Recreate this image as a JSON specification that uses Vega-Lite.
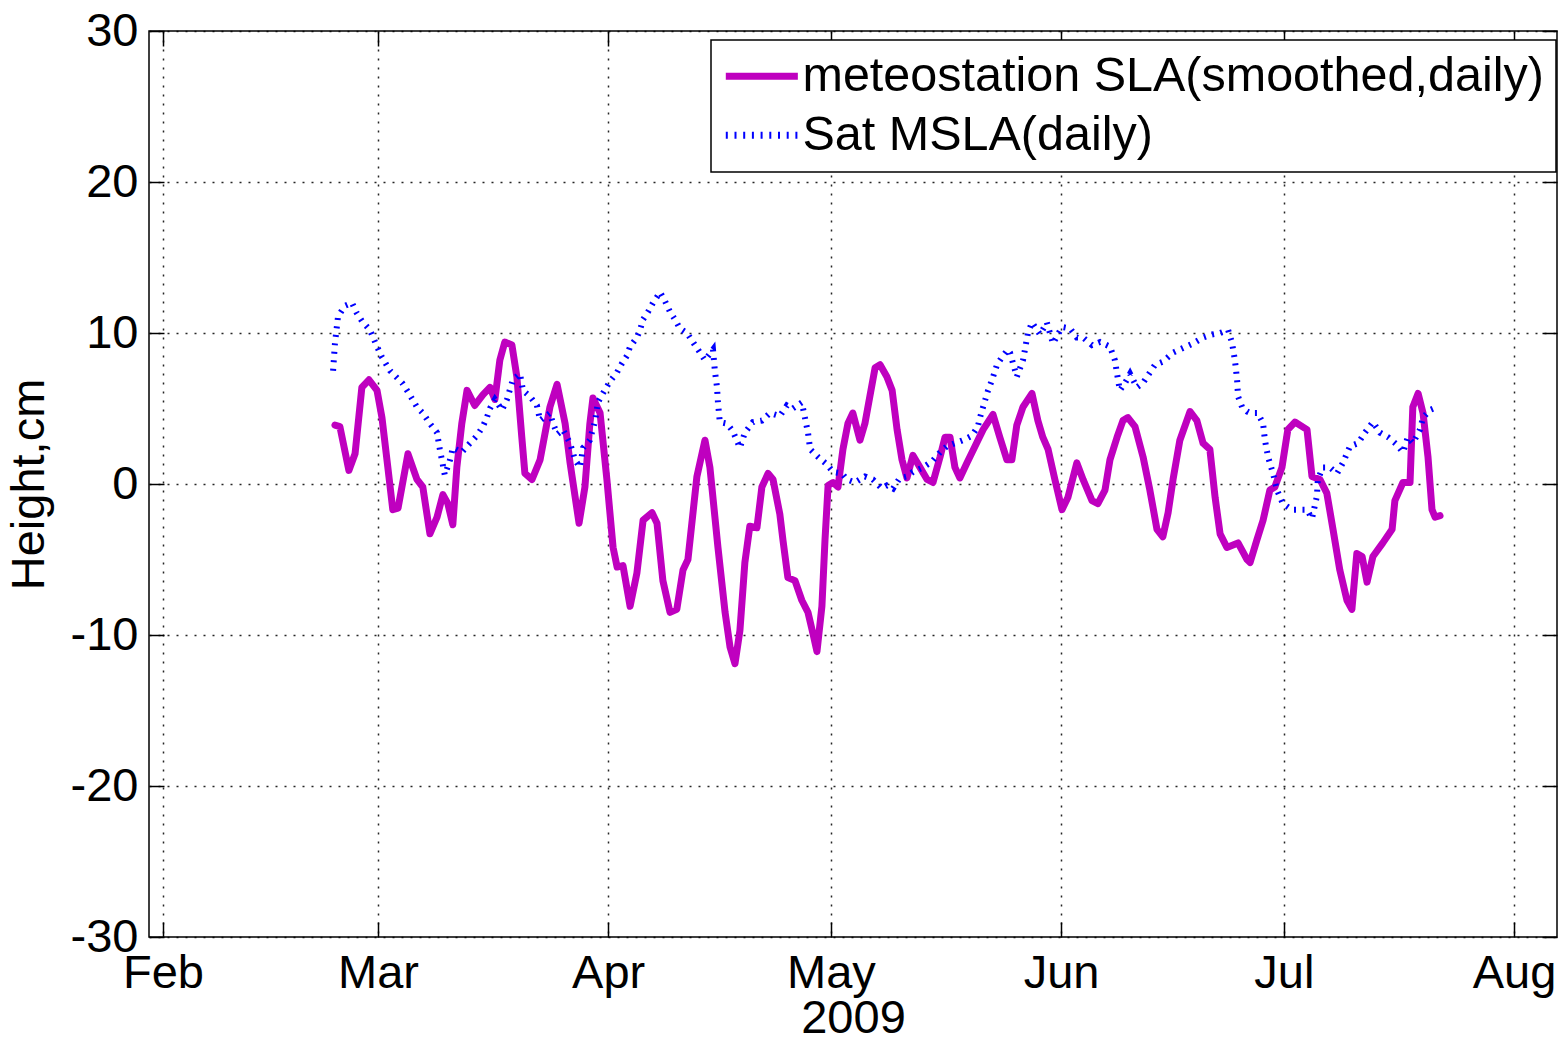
{
  "$schema": "https://vega.github.io/schema/vega-lite/v6.json",
  "width": 1408,
  "height": 906,
  "autosize": {"type": "none"},
  "padding": {"left": 149, "top": 31, "right": 1, "bottom": 103},
  "background": "white",
  "config": {
    "font": "Liberation Sans",
    "view": {"stroke": "black", "strokeWidth": 1.5},
    "axis": {
      "labelFont": "Liberation Sans", "titleFont": "Liberation Sans",
      "labelFontSize": 47, "titleFontSize": 47, "titleFontWeight": "normal",
      "labelColor": "black", "titleColor": "black",
      "tickColor": "black", "tickWidth": 1.5, "tickSize": -15,
      "domain": false,
      "gridColor": "black", "gridDash": [2, 7], "gridWidth": 1.5, "gridOpacity": 0.85,
      "labelFlush": false, "labelOverlap": false, "labelBound": false
    }
  },
  "datasets": {
    "meteo": [
      {"date": "2009-02-23T05:00", "value": 3.9, "series": "meteostation SLA(smoothed,daily)"},
      {"date": "2009-02-23T21:00", "value": 3.8, "series": "meteostation SLA(smoothed,daily)"},
      {"date": "2009-02-25T02:00", "value": 0.9, "series": "meteostation SLA(smoothed,daily)"},
      {"date": "2009-02-25T22:00", "value": 2.0, "series": "meteostation SLA(smoothed,daily)"},
      {"date": "2009-02-26T20:00", "value": 6.4, "series": "meteostation SLA(smoothed,daily)"},
      {"date": "2009-02-27T19:00", "value": 6.9, "series": "meteostation SLA(smoothed,daily)"},
      {"date": "2009-02-28T21:00", "value": 6.2, "series": "meteostation SLA(smoothed,daily)"},
      {"date": "2009-03-01T13:00", "value": 4.4, "series": "meteostation SLA(smoothed,daily)"},
      {"date": "2009-03-02T08:00", "value": 1.1, "series": "meteostation SLA(smoothed,daily)"},
      {"date": "2009-03-03T00:00", "value": -1.7, "series": "meteostation SLA(smoothed,daily)"},
      {"date": "2009-03-03T17:00", "value": -1.6, "series": "meteostation SLA(smoothed,daily)"},
      {"date": "2009-03-05T01:00", "value": 2.0, "series": "meteostation SLA(smoothed,daily)"},
      {"date": "2009-03-06T06:00", "value": 0.3, "series": "meteostation SLA(smoothed,daily)"},
      {"date": "2009-03-07T01:00", "value": -0.2, "series": "meteostation SLA(smoothed,daily)"},
      {"date": "2009-03-08T00:00", "value": -3.3, "series": "meteostation SLA(smoothed,daily)"},
      {"date": "2009-03-08T23:00", "value": -2.2, "series": "meteostation SLA(smoothed,daily)"},
      {"date": "2009-03-09T18:00", "value": -0.7, "series": "meteostation SLA(smoothed,daily)"},
      {"date": "2009-03-10T10:00", "value": -1.3, "series": "meteostation SLA(smoothed,daily)"},
      {"date": "2009-03-11T02:00", "value": -2.7, "series": "meteostation SLA(smoothed,daily)"},
      {"date": "2009-03-11T15:00", "value": 1.1, "series": "meteostation SLA(smoothed,daily)"},
      {"date": "2009-03-12T07:00", "value": 4.0, "series": "meteostation SLA(smoothed,daily)"},
      {"date": "2009-03-13T00:00", "value": 6.2, "series": "meteostation SLA(smoothed,daily)"},
      {"date": "2009-03-14T01:00", "value": 5.2, "series": "meteostation SLA(smoothed,daily)"},
      {"date": "2009-03-15T03:00", "value": 5.9, "series": "meteostation SLA(smoothed,daily)"},
      {"date": "2009-03-16T02:00", "value": 6.4, "series": "meteostation SLA(smoothed,daily)"},
      {"date": "2009-03-16T18:00", "value": 5.6, "series": "meteostation SLA(smoothed,daily)"},
      {"date": "2009-03-17T10:00", "value": 8.2, "series": "meteostation SLA(smoothed,daily)"},
      {"date": "2009-03-18T02:00", "value": 9.4, "series": "meteostation SLA(smoothed,daily)"},
      {"date": "2009-03-19T01:00", "value": 9.2, "series": "meteostation SLA(smoothed,daily)"},
      {"date": "2009-03-19T17:00", "value": 7.1, "series": "meteostation SLA(smoothed,daily)"},
      {"date": "2009-03-20T09:00", "value": 3.1, "series": "meteostation SLA(smoothed,daily)"},
      {"date": "2009-03-20T19:00", "value": 0.7, "series": "meteostation SLA(smoothed,daily)"},
      {"date": "2009-03-21T18:00", "value": 0.3, "series": "meteostation SLA(smoothed,daily)"},
      {"date": "2009-03-22T20:00", "value": 1.6, "series": "meteostation SLA(smoothed,daily)"},
      {"date": "2009-03-24T04:00", "value": 5.1, "series": "meteostation SLA(smoothed,daily)"},
      {"date": "2009-03-25T03:00", "value": 6.6, "series": "meteostation SLA(smoothed,daily)"},
      {"date": "2009-03-26T05:00", "value": 4.0, "series": "meteostation SLA(smoothed,daily)"},
      {"date": "2009-03-26T21:00", "value": 1.4, "series": "meteostation SLA(smoothed,daily)"},
      {"date": "2009-03-28T02:00", "value": -2.6, "series": "meteostation SLA(smoothed,daily)"},
      {"date": "2009-03-28T21:00", "value": -0.2, "series": "meteostation SLA(smoothed,daily)"},
      {"date": "2009-03-29T13:00", "value": 4.0, "series": "meteostation SLA(smoothed,daily)"},
      {"date": "2009-03-29T23:00", "value": 5.7, "series": "meteostation SLA(smoothed,daily)"},
      {"date": "2009-03-30T22:00", "value": 4.7, "series": "meteostation SLA(smoothed,daily)"},
      {"date": "2009-03-31T20:00", "value": 0.3, "series": "meteostation SLA(smoothed,daily)"},
      {"date": "2009-04-01T16:00", "value": -4.2, "series": "meteostation SLA(smoothed,daily)"},
      {"date": "2009-04-02T05:00", "value": -5.5, "series": "meteostation SLA(smoothed,daily)"},
      {"date": "2009-04-03T00:00", "value": -5.4, "series": "meteostation SLA(smoothed,daily)"},
      {"date": "2009-04-03T23:00", "value": -8.1, "series": "meteostation SLA(smoothed,daily)"},
      {"date": "2009-04-04T21:00", "value": -5.9, "series": "meteostation SLA(smoothed,daily)"},
      {"date": "2009-04-05T17:00", "value": -2.4, "series": "meteostation SLA(smoothed,daily)"},
      {"date": "2009-04-06T22:00", "value": -1.9, "series": "meteostation SLA(smoothed,daily)"},
      {"date": "2009-04-07T14:00", "value": -2.6, "series": "meteostation SLA(smoothed,daily)"},
      {"date": "2009-04-08T09:00", "value": -6.4, "series": "meteostation SLA(smoothed,daily)"},
      {"date": "2009-04-09T08:00", "value": -8.5, "series": "meteostation SLA(smoothed,daily)"},
      {"date": "2009-04-10T06:00", "value": -8.3, "series": "meteostation SLA(smoothed,daily)"},
      {"date": "2009-04-11T02:00", "value": -5.7, "series": "meteostation SLA(smoothed,daily)"},
      {"date": "2009-04-11T18:00", "value": -5.0, "series": "meteostation SLA(smoothed,daily)"},
      {"date": "2009-04-12T23:00", "value": 0.5, "series": "meteostation SLA(smoothed,daily)"},
      {"date": "2009-04-14T01:00", "value": 2.9, "series": "meteostation SLA(smoothed,daily)"},
      {"date": "2009-04-14T17:00", "value": 1.1, "series": "meteostation SLA(smoothed,daily)"},
      {"date": "2009-04-15T19:00", "value": -4.2, "series": "meteostation SLA(smoothed,daily)"},
      {"date": "2009-04-16T18:00", "value": -8.5, "series": "meteostation SLA(smoothed,daily)"},
      {"date": "2009-04-17T10:00", "value": -10.8, "series": "meteostation SLA(smoothed,daily)"},
      {"date": "2009-04-18T02:00", "value": -11.9, "series": "meteostation SLA(smoothed,daily)"},
      {"date": "2009-04-18T18:00", "value": -9.7, "series": "meteostation SLA(smoothed,daily)"},
      {"date": "2009-04-19T10:00", "value": -5.2, "series": "meteostation SLA(smoothed,daily)"},
      {"date": "2009-04-20T02:00", "value": -2.8, "series": "meteostation SLA(smoothed,daily)"},
      {"date": "2009-04-21T01:00", "value": -2.9, "series": "meteostation SLA(smoothed,daily)"},
      {"date": "2009-04-21T17:00", "value": -0.2, "series": "meteostation SLA(smoothed,daily)"},
      {"date": "2009-04-22T13:00", "value": 0.7, "series": "meteostation SLA(smoothed,daily)"},
      {"date": "2009-04-23T05:00", "value": 0.3, "series": "meteostation SLA(smoothed,daily)"},
      {"date": "2009-04-24T03:00", "value": -2.0, "series": "meteostation SLA(smoothed,daily)"},
      {"date": "2009-04-24T13:00", "value": -3.7, "series": "meteostation SLA(smoothed,daily)"},
      {"date": "2009-04-25T05:00", "value": -6.2, "series": "meteostation SLA(smoothed,daily)"},
      {"date": "2009-04-26T04:00", "value": -6.4, "series": "meteostation SLA(smoothed,daily)"},
      {"date": "2009-04-27T02:00", "value": -7.7, "series": "meteostation SLA(smoothed,daily)"},
      {"date": "2009-04-27T22:00", "value": -8.5, "series": "meteostation SLA(smoothed,daily)"},
      {"date": "2009-04-28T14:00", "value": -9.9, "series": "meteostation SLA(smoothed,daily)"},
      {"date": "2009-04-29T03:00", "value": -11.1, "series": "meteostation SLA(smoothed,daily)"},
      {"date": "2009-04-29T19:00", "value": -8.1, "series": "meteostation SLA(smoothed,daily)"},
      {"date": "2009-04-30T05:00", "value": -3.7, "series": "meteostation SLA(smoothed,daily)"},
      {"date": "2009-04-30T15:00", "value": -0.1, "series": "meteostation SLA(smoothed,daily)"},
      {"date": "2009-05-01T07:00", "value": 0.1, "series": "meteostation SLA(smoothed,daily)"},
      {"date": "2009-05-01T23:00", "value": -0.2, "series": "meteostation SLA(smoothed,daily)"},
      {"date": "2009-05-02T15:00", "value": 2.3, "series": "meteostation SLA(smoothed,daily)"},
      {"date": "2009-05-03T07:00", "value": 4.0, "series": "meteostation SLA(smoothed,daily)"},
      {"date": "2009-05-03T23:00", "value": 4.7, "series": "meteostation SLA(smoothed,daily)"},
      {"date": "2009-05-04T22:00", "value": 2.9, "series": "meteostation SLA(smoothed,daily)"},
      {"date": "2009-05-05T14:00", "value": 4.0, "series": "meteostation SLA(smoothed,daily)"},
      {"date": "2009-05-06T06:00", "value": 5.8, "series": "meteostation SLA(smoothed,daily)"},
      {"date": "2009-05-06T23:00", "value": 7.7, "series": "meteostation SLA(smoothed,daily)"},
      {"date": "2009-05-07T15:00", "value": 7.9, "series": "meteostation SLA(smoothed,daily)"},
      {"date": "2009-05-08T13:00", "value": 7.1, "series": "meteostation SLA(smoothed,daily)"},
      {"date": "2009-05-09T06:00", "value": 6.2, "series": "meteostation SLA(smoothed,daily)"},
      {"date": "2009-05-09T22:00", "value": 3.6, "series": "meteostation SLA(smoothed,daily)"},
      {"date": "2009-05-10T14:00", "value": 1.6, "series": "meteostation SLA(smoothed,daily)"},
      {"date": "2009-05-11T06:00", "value": 0.4, "series": "meteostation SLA(smoothed,daily)"},
      {"date": "2009-05-12T01:00", "value": 1.9, "series": "meteostation SLA(smoothed,daily)"},
      {"date": "2009-05-13T00:00", "value": 1.1, "series": "meteostation SLA(smoothed,daily)"},
      {"date": "2009-05-13T23:00", "value": 0.3, "series": "meteostation SLA(smoothed,daily)"},
      {"date": "2009-05-14T18:00", "value": 0.1, "series": "meteostation SLA(smoothed,daily)"},
      {"date": "2009-05-15T17:00", "value": 1.8, "series": "meteostation SLA(smoothed,daily)"},
      {"date": "2009-05-16T09:00", "value": 3.1, "series": "meteostation SLA(smoothed,daily)"},
      {"date": "2009-05-17T01:00", "value": 3.1, "series": "meteostation SLA(smoothed,daily)"},
      {"date": "2009-05-17T17:00", "value": 1.1, "series": "meteostation SLA(smoothed,daily)"},
      {"date": "2009-05-18T09:00", "value": 0.4, "series": "meteostation SLA(smoothed,daily)"},
      {"date": "2009-05-19T08:00", "value": 1.4, "series": "meteostation SLA(smoothed,daily)"},
      {"date": "2009-05-20T10:00", "value": 2.5, "series": "meteostation SLA(smoothed,daily)"},
      {"date": "2009-05-21T12:00", "value": 3.6, "series": "meteostation SLA(smoothed,daily)"},
      {"date": "2009-05-22T20:00", "value": 4.6, "series": "meteostation SLA(smoothed,daily)"},
      {"date": "2009-05-23T18:00", "value": 3.1, "series": "meteostation SLA(smoothed,daily)"},
      {"date": "2009-05-24T17:00", "value": 1.6, "series": "meteostation SLA(smoothed,daily)"},
      {"date": "2009-05-25T09:00", "value": 1.6, "series": "meteostation SLA(smoothed,daily)"},
      {"date": "2009-05-26T01:00", "value": 3.9, "series": "meteostation SLA(smoothed,daily)"},
      {"date": "2009-05-26T21:00", "value": 5.1, "series": "meteostation SLA(smoothed,daily)"},
      {"date": "2009-05-28T02:00", "value": 6.0, "series": "meteostation SLA(smoothed,daily)"},
      {"date": "2009-05-28T21:00", "value": 4.2, "series": "meteostation SLA(smoothed,daily)"},
      {"date": "2009-05-29T13:00", "value": 3.1, "series": "meteostation SLA(smoothed,daily)"},
      {"date": "2009-05-30T06:00", "value": 2.3, "series": "meteostation SLA(smoothed,daily)"},
      {"date": "2009-05-31T04:00", "value": 0.3, "series": "meteostation SLA(smoothed,daily)"},
      {"date": "2009-06-01T03:00", "value": -1.7, "series": "meteostation SLA(smoothed,daily)"},
      {"date": "2009-06-01T22:00", "value": -0.9, "series": "meteostation SLA(smoothed,daily)"},
      {"date": "2009-06-03T03:00", "value": 1.4, "series": "meteostation SLA(smoothed,daily)"},
      {"date": "2009-06-03T23:00", "value": 0.3, "series": "meteostation SLA(smoothed,daily)"},
      {"date": "2009-06-05T04:00", "value": -1.1, "series": "meteostation SLA(smoothed,daily)"},
      {"date": "2009-06-05T23:00", "value": -1.3, "series": "meteostation SLA(smoothed,daily)"},
      {"date": "2009-06-06T22:00", "value": -0.4, "series": "meteostation SLA(smoothed,daily)"},
      {"date": "2009-06-07T14:00", "value": 1.6, "series": "meteostation SLA(smoothed,daily)"},
      {"date": "2009-06-08T13:00", "value": 3.1, "series": "meteostation SLA(smoothed,daily)"},
      {"date": "2009-06-09T08:00", "value": 4.2, "series": "meteostation SLA(smoothed,daily)"},
      {"date": "2009-06-10T00:00", "value": 4.4, "series": "meteostation SLA(smoothed,daily)"},
      {"date": "2009-06-10T23:00", "value": 3.8, "series": "meteostation SLA(smoothed,daily)"},
      {"date": "2009-06-12T01:00", "value": 1.8, "series": "meteostation SLA(smoothed,daily)"},
      {"date": "2009-06-12T23:00", "value": -0.4, "series": "meteostation SLA(smoothed,daily)"},
      {"date": "2009-06-13T22:00", "value": -3.0, "series": "meteostation SLA(smoothed,daily)"},
      {"date": "2009-06-14T17:00", "value": -3.5, "series": "meteostation SLA(smoothed,daily)"},
      {"date": "2009-06-15T10:00", "value": -1.9, "series": "meteostation SLA(smoothed,daily)"},
      {"date": "2009-06-16T02:00", "value": 0.3, "series": "meteostation SLA(smoothed,daily)"},
      {"date": "2009-06-17T00:00", "value": 2.9, "series": "meteostation SLA(smoothed,daily)"},
      {"date": "2009-06-18T09:00", "value": 4.8, "series": "meteostation SLA(smoothed,daily)"},
      {"date": "2009-06-19T07:00", "value": 4.2, "series": "meteostation SLA(smoothed,daily)"},
      {"date": "2009-06-20T03:00", "value": 2.7, "series": "meteostation SLA(smoothed,daily)"},
      {"date": "2009-06-21T01:00", "value": 2.3, "series": "meteostation SLA(smoothed,daily)"},
      {"date": "2009-06-21T18:00", "value": -0.9, "series": "meteostation SLA(smoothed,daily)"},
      {"date": "2009-06-22T10:00", "value": -3.3, "series": "meteostation SLA(smoothed,daily)"},
      {"date": "2009-06-23T08:00", "value": -4.2, "series": "meteostation SLA(smoothed,daily)"},
      {"date": "2009-06-24T20:00", "value": -3.9, "series": "meteostation SLA(smoothed,daily)"},
      {"date": "2009-06-26T01:00", "value": -5.0, "series": "meteostation SLA(smoothed,daily)"},
      {"date": "2009-06-26T11:00", "value": -5.2, "series": "meteostation SLA(smoothed,daily)"},
      {"date": "2009-06-27T09:00", "value": -3.7, "series": "meteostation SLA(smoothed,daily)"},
      {"date": "2009-06-28T05:00", "value": -2.4, "series": "meteostation SLA(smoothed,daily)"},
      {"date": "2009-06-29T03:00", "value": -0.4, "series": "meteostation SLA(smoothed,daily)"},
      {"date": "2009-06-29T19:00", "value": -0.2, "series": "meteostation SLA(smoothed,daily)"},
      {"date": "2009-06-30T18:00", "value": 1.1, "series": "meteostation SLA(smoothed,daily)"},
      {"date": "2009-07-01T13:00", "value": 3.6, "series": "meteostation SLA(smoothed,daily)"},
      {"date": "2009-07-02T12:00", "value": 4.1, "series": "meteostation SLA(smoothed,daily)"},
      {"date": "2009-07-04T03:00", "value": 3.6, "series": "meteostation SLA(smoothed,daily)"},
      {"date": "2009-07-04T19:00", "value": 0.5, "series": "meteostation SLA(smoothed,daily)"},
      {"date": "2009-07-05T21:00", "value": 0.3, "series": "meteostation SLA(smoothed,daily)"},
      {"date": "2009-07-06T19:00", "value": -0.6, "series": "meteostation SLA(smoothed,daily)"},
      {"date": "2009-07-07T15:00", "value": -3.0, "series": "meteostation SLA(smoothed,daily)"},
      {"date": "2009-07-08T13:00", "value": -5.7, "series": "meteostation SLA(smoothed,daily)"},
      {"date": "2009-07-09T12:00", "value": -7.7, "series": "meteostation SLA(smoothed,daily)"},
      {"date": "2009-07-10T04:00", "value": -8.3, "series": "meteostation SLA(smoothed,daily)"},
      {"date": "2009-07-10T20:00", "value": -4.6, "series": "meteostation SLA(smoothed,daily)"},
      {"date": "2009-07-11T13:00", "value": -4.8, "series": "meteostation SLA(smoothed,daily)"},
      {"date": "2009-07-12T05:00", "value": -6.5, "series": "meteostation SLA(smoothed,daily)"},
      {"date": "2009-07-13T00:00", "value": -4.8, "series": "meteostation SLA(smoothed,daily)"},
      {"date": "2009-07-14T08:00", "value": -3.9, "series": "meteostation SLA(smoothed,daily)"},
      {"date": "2009-07-15T14:00", "value": -3.0, "series": "meteostation SLA(smoothed,daily)"},
      {"date": "2009-07-15T23:00", "value": -1.1, "series": "meteostation SLA(smoothed,daily)"},
      {"date": "2009-07-17T01:00", "value": 0.1, "series": "meteostation SLA(smoothed,daily)"},
      {"date": "2009-07-18T00:00", "value": 0.1, "series": "meteostation SLA(smoothed,daily)"},
      {"date": "2009-07-18T09:00", "value": 5.1, "series": "meteostation SLA(smoothed,daily)"},
      {"date": "2009-07-19T02:00", "value": 6.0, "series": "meteostation SLA(smoothed,daily)"},
      {"date": "2009-07-19T18:00", "value": 4.7, "series": "meteostation SLA(smoothed,daily)"},
      {"date": "2009-07-20T10:00", "value": 1.8, "series": "meteostation SLA(smoothed,daily)"},
      {"date": "2009-07-20T23:00", "value": -1.7, "series": "meteostation SLA(smoothed,daily)"},
      {"date": "2009-07-21T09:00", "value": -2.2, "series": "meteostation SLA(smoothed,daily)"},
      {"date": "2009-07-22T01:00", "value": -2.1, "series": "meteostation SLA(smoothed,daily)"}
    ],
    "sat": [
      {"date": "2009-02-22T23:00", "value": 7.5, "series": "Sat MSLA(daily)"},
      {"date": "2009-02-23T05:00", "value": 9.3, "series": "Sat MSLA(daily)"},
      {"date": "2009-02-23T15:00", "value": 11.1, "series": "Sat MSLA(daily)"},
      {"date": "2009-02-24T13:00", "value": 11.8, "series": "Sat MSLA(daily)"},
      {"date": "2009-02-25T12:00", "value": 12.0, "series": "Sat MSLA(daily)"},
      {"date": "2009-02-26T04:00", "value": 11.3, "series": "Sat MSLA(daily)"},
      {"date": "2009-02-26T20:00", "value": 10.8, "series": "Sat MSLA(daily)"},
      {"date": "2009-02-27T22:00", "value": 10.2, "series": "Sat MSLA(daily)"},
      {"date": "2009-02-28T21:00", "value": 9.1, "series": "Sat MSLA(daily)"},
      {"date": "2009-03-01T13:00", "value": 8.4, "series": "Sat MSLA(daily)"},
      {"date": "2009-03-02T15:00", "value": 7.5, "series": "Sat MSLA(daily)"},
      {"date": "2009-03-04T06:00", "value": 6.7, "series": "Sat MSLA(daily)"},
      {"date": "2009-03-05T07:00", "value": 5.9, "series": "Sat MSLA(daily)"},
      {"date": "2009-03-06T06:00", "value": 5.1, "series": "Sat MSLA(daily)"},
      {"date": "2009-03-07T01:00", "value": 4.7, "series": "Sat MSLA(daily)"},
      {"date": "2009-03-08T00:00", "value": 4.0, "series": "Sat MSLA(daily)"},
      {"date": "2009-03-08T23:00", "value": 3.4, "series": "Sat MSLA(daily)"},
      {"date": "2009-03-09T08:00", "value": 2.3, "series": "Sat MSLA(daily)"},
      {"date": "2009-03-10T00:00", "value": 0.6, "series": "Sat MSLA(daily)"},
      {"date": "2009-03-10T17:00", "value": 1.6, "series": "Sat MSLA(daily)"},
      {"date": "2009-03-11T02:00", "value": 2.4, "series": "Sat MSLA(daily)"},
      {"date": "2009-03-12T07:00", "value": 2.1, "series": "Sat MSLA(daily)"},
      {"date": "2009-03-13T09:00", "value": 2.7, "series": "Sat MSLA(daily)"},
      {"date": "2009-03-14T08:00", "value": 3.2, "series": "Sat MSLA(daily)"},
      {"date": "2009-03-15T03:00", "value": 3.8, "series": "Sat MSLA(daily)"},
      {"date": "2009-03-15T16:00", "value": 4.4, "series": "Sat MSLA(daily)"},
      {"date": "2009-03-16T02:00", "value": 5.0, "series": "Sat MSLA(daily)"},
      {"date": "2009-03-16T18:00", "value": 5.6, "series": "Sat MSLA(daily)"},
      {"date": "2009-03-17T17:00", "value": 4.9, "series": "Sat MSLA(daily)"},
      {"date": "2009-03-18T09:00", "value": 5.6, "series": "Sat MSLA(daily)"},
      {"date": "2009-03-19T04:00", "value": 6.9, "series": "Sat MSLA(daily)"},
      {"date": "2009-03-20T03:00", "value": 7.3, "series": "Sat MSLA(daily)"},
      {"date": "2009-03-20T13:00", "value": 6.2, "series": "Sat MSLA(daily)"},
      {"date": "2009-03-21T11:00", "value": 5.8, "series": "Sat MSLA(daily)"},
      {"date": "2009-03-22T10:00", "value": 5.2, "series": "Sat MSLA(daily)"},
      {"date": "2009-03-22T20:00", "value": 4.2, "series": "Sat MSLA(daily)"},
      {"date": "2009-03-24T04:00", "value": 4.7, "series": "Sat MSLA(daily)"},
      {"date": "2009-03-24T14:00", "value": 4.0, "series": "Sat MSLA(daily)"},
      {"date": "2009-03-25T04:00", "value": 3.3, "series": "Sat MSLA(daily)"},
      {"date": "2009-03-25T22:00", "value": 3.6, "series": "Sat MSLA(daily)"},
      {"date": "2009-03-26T21:00", "value": 2.7, "series": "Sat MSLA(daily)"},
      {"date": "2009-03-27T13:00", "value": 1.6, "series": "Sat MSLA(daily)"},
      {"date": "2009-03-28T05:00", "value": 1.1, "series": "Sat MSLA(daily)"},
      {"date": "2009-03-28T15:00", "value": 2.4, "series": "Sat MSLA(daily)"},
      {"date": "2009-03-29T13:00", "value": 2.9, "series": "Sat MSLA(daily)"},
      {"date": "2009-03-30T06:00", "value": 4.2, "series": "Sat MSLA(daily)"},
      {"date": "2009-03-30T15:00", "value": 5.4, "series": "Sat MSLA(daily)"},
      {"date": "2009-03-31T07:00", "value": 6.0, "series": "Sat MSLA(daily)"},
      {"date": "2009-04-01T06:00", "value": 6.8, "series": "Sat MSLA(daily)"},
      {"date": "2009-04-02T05:00", "value": 7.4, "series": "Sat MSLA(daily)"},
      {"date": "2009-04-02T21:00", "value": 8.0, "series": "Sat MSLA(daily)"},
      {"date": "2009-04-03T13:00", "value": 8.5, "series": "Sat MSLA(daily)"},
      {"date": "2009-04-03T23:00", "value": 9.1, "series": "Sat MSLA(daily)"},
      {"date": "2009-04-04T21:00", "value": 9.7, "series": "Sat MSLA(daily)"},
      {"date": "2009-04-05T07:00", "value": 10.2, "series": "Sat MSLA(daily)"},
      {"date": "2009-04-05T17:00", "value": 10.9, "series": "Sat MSLA(daily)"},
      {"date": "2009-04-06T09:00", "value": 11.4, "series": "Sat MSLA(daily)"},
      {"date": "2009-04-07T01:00", "value": 12.0, "series": "Sat MSLA(daily)"},
      {"date": "2009-04-08T00:00", "value": 12.7, "series": "Sat MSLA(daily)"},
      {"date": "2009-04-08T16:00", "value": 12.1, "series": "Sat MSLA(daily)"},
      {"date": "2009-04-09T08:00", "value": 11.4, "series": "Sat MSLA(daily)"},
      {"date": "2009-04-10T00:00", "value": 10.9, "series": "Sat MSLA(daily)"},
      {"date": "2009-04-10T16:00", "value": 10.3, "series": "Sat MSLA(daily)"},
      {"date": "2009-04-11T15:00", "value": 10.0, "series": "Sat MSLA(daily)"},
      {"date": "2009-04-12T10:00", "value": 9.4, "series": "Sat MSLA(daily)"},
      {"date": "2009-04-13T09:00", "value": 8.7, "series": "Sat MSLA(daily)"},
      {"date": "2009-04-14T01:00", "value": 8.2, "series": "Sat MSLA(daily)"},
      {"date": "2009-04-15T03:00", "value": 8.9, "series": "Sat MSLA(daily)"},
      {"date": "2009-04-15T09:00", "value": 7.5, "series": "Sat MSLA(daily)"},
      {"date": "2009-04-15T16:00", "value": 6.4, "series": "Sat MSLA(daily)"},
      {"date": "2009-04-15T19:00", "value": 5.4, "series": "Sat MSLA(daily)"},
      {"date": "2009-04-16T01:00", "value": 4.1, "series": "Sat MSLA(daily)"},
      {"date": "2009-04-17T00:00", "value": 4.0, "series": "Sat MSLA(daily)"},
      {"date": "2009-04-17T19:00", "value": 3.5, "series": "Sat MSLA(daily)"},
      {"date": "2009-04-18T18:00", "value": 2.4, "series": "Sat MSLA(daily)"},
      {"date": "2009-04-19T10:00", "value": 3.4, "series": "Sat MSLA(daily)"},
      {"date": "2009-04-20T12:00", "value": 4.1, "series": "Sat MSLA(daily)"},
      {"date": "2009-04-21T17:00", "value": 4.2, "series": "Sat MSLA(daily)"},
      {"date": "2009-04-22T19:00", "value": 4.7, "series": "Sat MSLA(daily)"},
      {"date": "2009-04-24T03:00", "value": 4.5, "series": "Sat MSLA(daily)"},
      {"date": "2009-04-25T02:00", "value": 5.2, "series": "Sat MSLA(daily)"},
      {"date": "2009-04-25T21:00", "value": 5.0, "series": "Sat MSLA(daily)"},
      {"date": "2009-04-27T02:00", "value": 5.4, "series": "Sat MSLA(daily)"},
      {"date": "2009-04-27T12:00", "value": 4.4, "series": "Sat MSLA(daily)"},
      {"date": "2009-04-27T22:00", "value": 3.4, "series": "Sat MSLA(daily)"},
      {"date": "2009-04-28T05:00", "value": 2.3, "series": "Sat MSLA(daily)"},
      {"date": "2009-04-29T06:00", "value": 1.8, "series": "Sat MSLA(daily)"},
      {"date": "2009-04-30T11:00", "value": 1.3, "series": "Sat MSLA(daily)"},
      {"date": "2009-05-01T07:00", "value": 0.8, "series": "Sat MSLA(daily)"},
      {"date": "2009-05-02T12:00", "value": 0.7, "series": "Sat MSLA(daily)"},
      {"date": "2009-05-03T04:00", "value": 0.3, "series": "Sat MSLA(daily)"},
      {"date": "2009-05-04T06:00", "value": 0.1, "series": "Sat MSLA(daily)"},
      {"date": "2009-05-05T14:00", "value": 0.5, "series": "Sat MSLA(daily)"},
      {"date": "2009-05-06T16:00", "value": 0.3, "series": "Sat MSLA(daily)"},
      {"date": "2009-05-07T21:00", "value": -0.3, "series": "Sat MSLA(daily)"},
      {"date": "2009-05-08T13:00", "value": -0.1, "series": "Sat MSLA(daily)"},
      {"date": "2009-05-09T09:00", "value": -0.3, "series": "Sat MSLA(daily)"},
      {"date": "2009-05-10T07:00", "value": 0.4, "series": "Sat MSLA(daily)"},
      {"date": "2009-05-11T06:00", "value": 0.5, "series": "Sat MSLA(daily)"},
      {"date": "2009-05-12T01:00", "value": 0.8, "series": "Sat MSLA(daily)"},
      {"date": "2009-05-13T10:00", "value": 1.1, "series": "Sat MSLA(daily)"},
      {"date": "2009-05-14T15:00", "value": 1.5, "series": "Sat MSLA(daily)"},
      {"date": "2009-05-15T17:00", "value": 2.1, "series": "Sat MSLA(daily)"},
      {"date": "2009-05-16T15:00", "value": 2.5, "series": "Sat MSLA(daily)"},
      {"date": "2009-05-17T17:00", "value": 2.7, "series": "Sat MSLA(daily)"},
      {"date": "2009-05-18T19:00", "value": 2.9, "series": "Sat MSLA(daily)"},
      {"date": "2009-05-20T00:00", "value": 3.2, "series": "Sat MSLA(daily)"},
      {"date": "2009-05-20T19:00", "value": 3.8, "series": "Sat MSLA(daily)"},
      {"date": "2009-05-21T02:00", "value": 4.4, "series": "Sat MSLA(daily)"},
      {"date": "2009-05-21T12:00", "value": 5.1, "series": "Sat MSLA(daily)"},
      {"date": "2009-05-22T04:00", "value": 6.2, "series": "Sat MSLA(daily)"},
      {"date": "2009-05-22T17:00", "value": 6.9, "series": "Sat MSLA(daily)"},
      {"date": "2009-05-23T09:00", "value": 7.9, "series": "Sat MSLA(daily)"},
      {"date": "2009-05-24T01:00", "value": 8.4, "series": "Sat MSLA(daily)"},
      {"date": "2009-05-24T20:00", "value": 8.9, "series": "Sat MSLA(daily)"},
      {"date": "2009-05-25T03:00", "value": 8.7, "series": "Sat MSLA(daily)"},
      {"date": "2009-05-26T01:00", "value": 7.1, "series": "Sat MSLA(daily)"},
      {"date": "2009-05-26T21:00", "value": 8.2, "series": "Sat MSLA(daily)"},
      {"date": "2009-05-27T13:00", "value": 10.0, "series": "Sat MSLA(daily)"},
      {"date": "2009-05-28T02:00", "value": 10.7, "series": "Sat MSLA(daily)"},
      {"date": "2009-05-29T04:00", "value": 9.9, "series": "Sat MSLA(daily)"},
      {"date": "2009-05-30T02:00", "value": 10.7, "series": "Sat MSLA(daily)"},
      {"date": "2009-05-30T22:00", "value": 9.3, "series": "Sat MSLA(daily)"},
      {"date": "2009-06-01T03:00", "value": 10.4, "series": "Sat MSLA(daily)"},
      {"date": "2009-06-02T05:00", "value": 10.3, "series": "Sat MSLA(daily)"},
      {"date": "2009-06-03T03:00", "value": 9.7, "series": "Sat MSLA(daily)"},
      {"date": "2009-06-03T23:00", "value": 9.7, "series": "Sat MSLA(daily)"},
      {"date": "2009-06-05T04:00", "value": 9.2, "series": "Sat MSLA(daily)"},
      {"date": "2009-06-06T06:00", "value": 9.4, "series": "Sat MSLA(daily)"},
      {"date": "2009-06-07T14:00", "value": 9.1, "series": "Sat MSLA(daily)"},
      {"date": "2009-06-08T06:00", "value": 8.2, "series": "Sat MSLA(daily)"},
      {"date": "2009-06-08T13:00", "value": 7.3, "series": "Sat MSLA(daily)"},
      {"date": "2009-06-08T22:00", "value": 6.2, "series": "Sat MSLA(daily)"},
      {"date": "2009-06-09T15:00", "value": 6.7, "series": "Sat MSLA(daily)"},
      {"date": "2009-06-10T07:00", "value": 7.3, "series": "Sat MSLA(daily)"},
      {"date": "2009-06-11T05:00", "value": 6.4, "series": "Sat MSLA(daily)"},
      {"date": "2009-06-12T01:00", "value": 6.7, "series": "Sat MSLA(daily)"},
      {"date": "2009-06-12T17:00", "value": 7.2, "series": "Sat MSLA(daily)"},
      {"date": "2009-06-13T16:00", "value": 7.9, "series": "Sat MSLA(daily)"},
      {"date": "2009-06-14T17:00", "value": 8.1, "series": "Sat MSLA(daily)"},
      {"date": "2009-06-16T02:00", "value": 8.7, "series": "Sat MSLA(daily)"},
      {"date": "2009-06-17T10:00", "value": 9.0, "series": "Sat MSLA(daily)"},
      {"date": "2009-06-18T18:00", "value": 9.3, "series": "Sat MSLA(daily)"},
      {"date": "2009-06-20T03:00", "value": 9.7, "series": "Sat MSLA(daily)"},
      {"date": "2009-06-21T08:00", "value": 9.9, "series": "Sat MSLA(daily)"},
      {"date": "2009-06-22T10:00", "value": 10.0, "series": "Sat MSLA(daily)"},
      {"date": "2009-06-23T12:00", "value": 10.2, "series": "Sat MSLA(daily)"},
      {"date": "2009-06-24T00:00", "value": 9.4, "series": "Sat MSLA(daily)"},
      {"date": "2009-06-24T10:00", "value": 8.2, "series": "Sat MSLA(daily)"},
      {"date": "2009-06-24T17:00", "value": 6.9, "series": "Sat MSLA(daily)"},
      {"date": "2009-06-24T20:00", "value": 5.8, "series": "Sat MSLA(daily)"},
      {"date": "2009-06-25T09:00", "value": 5.1, "series": "Sat MSLA(daily)"},
      {"date": "2009-06-26T01:00", "value": 4.8, "series": "Sat MSLA(daily)"},
      {"date": "2009-06-26T11:00", "value": 4.7, "series": "Sat MSLA(daily)"},
      {"date": "2009-06-27T12:00", "value": 4.7, "series": "Sat MSLA(daily)"},
      {"date": "2009-06-28T05:00", "value": 4.0, "series": "Sat MSLA(daily)"},
      {"date": "2009-06-28T11:00", "value": 2.9, "series": "Sat MSLA(daily)"},
      {"date": "2009-06-28T21:00", "value": 1.8, "series": "Sat MSLA(daily)"},
      {"date": "2009-06-29T13:00", "value": 0.7, "series": "Sat MSLA(daily)"},
      {"date": "2009-06-30T02:00", "value": -0.4, "series": "Sat MSLA(daily)"},
      {"date": "2009-06-30T21:00", "value": -1.3, "series": "Sat MSLA(daily)"},
      {"date": "2009-07-02T02:00", "value": -1.7, "series": "Sat MSLA(daily)"},
      {"date": "2009-07-03T04:00", "value": -1.7, "series": "Sat MSLA(daily)"},
      {"date": "2009-07-04T03:00", "value": -1.7, "series": "Sat MSLA(daily)"},
      {"date": "2009-07-04T19:00", "value": -2.3, "series": "Sat MSLA(daily)"},
      {"date": "2009-07-05T11:00", "value": -0.8, "series": "Sat MSLA(daily)"},
      {"date": "2009-07-05T14:00", "value": 0.3, "series": "Sat MSLA(daily)"},
      {"date": "2009-07-06T06:00", "value": 1.1, "series": "Sat MSLA(daily)"},
      {"date": "2009-07-07T05:00", "value": 1.1, "series": "Sat MSLA(daily)"},
      {"date": "2009-07-08T04:00", "value": 0.7, "series": "Sat MSLA(daily)"},
      {"date": "2009-07-08T23:00", "value": 1.4, "series": "Sat MSLA(daily)"},
      {"date": "2009-07-09T22:00", "value": 2.5, "series": "Sat MSLA(daily)"},
      {"date": "2009-07-11T00:00", "value": 2.7, "series": "Sat MSLA(daily)"},
      {"date": "2009-07-11T22:00", "value": 3.4, "series": "Sat MSLA(daily)"},
      {"date": "2009-07-13T00:00", "value": 4.1, "series": "Sat MSLA(daily)"},
      {"date": "2009-07-13T23:00", "value": 3.4, "series": "Sat MSLA(daily)"},
      {"date": "2009-07-15T01:00", "value": 3.1, "series": "Sat MSLA(daily)"},
      {"date": "2009-07-16T06:00", "value": 2.6, "series": "Sat MSLA(daily)"},
      {"date": "2009-07-17T01:00", "value": 2.1, "series": "Sat MSLA(daily)"},
      {"date": "2009-07-17T17:00", "value": 3.1, "series": "Sat MSLA(daily)"},
      {"date": "2009-07-18T09:00", "value": 2.7, "series": "Sat MSLA(daily)"},
      {"date": "2009-07-19T08:00", "value": 3.6, "series": "Sat MSLA(daily)"},
      {"date": "2009-07-19T18:00", "value": 4.4, "series": "Sat MSLA(daily)"},
      {"date": "2009-07-20T16:00", "value": 4.9, "series": "Sat MSLA(daily)"},
      {"date": "2009-07-21T15:00", "value": 5.1, "series": "Sat MSLA(daily)"}
    ]
  },
  "layer": [
    {
      "data": {"name": "meteo"},
      "mark": {"type": "line", "strokeWidth": 7, "strokeJoin": "round", "strokeCap": "round"},
      "encoding": {
        "x": {
          "field": "date", "type": "temporal",
          "scale": {"domain": [{"year": 2009, "month": 1, "date": 29, "hours": 4}, {"year": 2009, "month": 8, "date": 6, "hours": 19}]},
          "axis": {
            "orient": "bottom",
            "values": [{"year": 2009, "month": 1, "date": 31, "hours": 1}, {"year": 2009, "month": 3, "date": 1}, {"year": 2009, "month": 4, "date": 1}, {"year": 2009, "month": 5, "date": 1}, {"year": 2009, "month": 6, "date": 1}, {"year": 2009, "month": 7, "date": 1}, {"year": 2009, "month": 8, "date": 1}],
            "labelExpr": "timeFormat(time(datum.value) + 86400000, '%b')",
            "labelPadding": 28, "title": "2009", "titlePadding": -1, "grid": true
          }
        },
        "y": {
          "field": "value", "type": "quantitative",
          "scale": {"domain": [-30, 30], "nice": false},
          "axis": {
            "orient": "left",
            "values": [-30, -20, -10, 0, 10, 20, 30],
            "labelExpr": "'' + datum.value",
            "labelPadding": 26, "title": "Height,cm", "titlePadding": 17, "grid": true
          }
        },
        "color": {
          "field": "series", "type": "nominal",
          "scale": {"domain": ["meteostation SLA(smoothed,daily)", "Sat MSLA(daily)"], "range": ["#bf00bf", "#0000ff"]},
          "legend": {
            "orient": "none", "legendX": 562, "legendY": 9, "title": null, "direction": "vertical",
            "symbolType": "M-0.78,0H1.84", "symbolSize": 3025, "symbolStrokeWidth": 6.5,
            "labelFont": "Liberation Sans", "labelFontSize": 48.5, "labelColor": "black", "labelOffset": 31, "labelLimit": 2000,
            "padding": 12, "rowPadding": 10, "strokeColor": "black", "fillColor": "white",
            "encode": {
              "symbols": {"update": {
                "strokeWidth": {"signal": "datum.value === 'Sat MSLA(daily)' ? 7 : 7"},
                "strokeDash": {"signal": "datum.value === 'Sat MSLA(daily)' ? [2, 6.7] : [1, 0]"},
                "strokeCap": {"value": "butt"}
              }},
              "legend": {"update": {"strokeWidth": {"value": 1.5}}}
            }
          }
        }
      }
    },
    {
      "data": {"name": "sat"},
      "mark": {"type": "line", "strokeWidth": 6, "strokeDash": [2, 6.5], "strokeCap": "butt"},
      "encoding": {
        "x": {
          "field": "date", "type": "temporal",
          "axis": {
            "orient": "top",
            "values": [{"year": 2009, "month": 1, "date": 31, "hours": 1}, {"year": 2009, "month": 3, "date": 1}, {"year": 2009, "month": 4, "date": 1}, {"year": 2009, "month": 5, "date": 1}, {"year": 2009, "month": 6, "date": 1}, {"year": 2009, "month": 7, "date": 1}, {"year": 2009, "month": 8, "date": 1}],
            "labels": false, "grid": false, "title": null
          }
        },
        "y": {
          "field": "value", "type": "quantitative",
          "axis": {"orient": "right", "values": [-30, -20, -10, 0, 10, 20, 30], "labels": false, "grid": false, "title": null}
        },
        "color": {"field": "series", "type": "nominal"}
      }
    }
  ],
  "resolve": {"axis": {"x": "independent", "y": "independent"}}
}
